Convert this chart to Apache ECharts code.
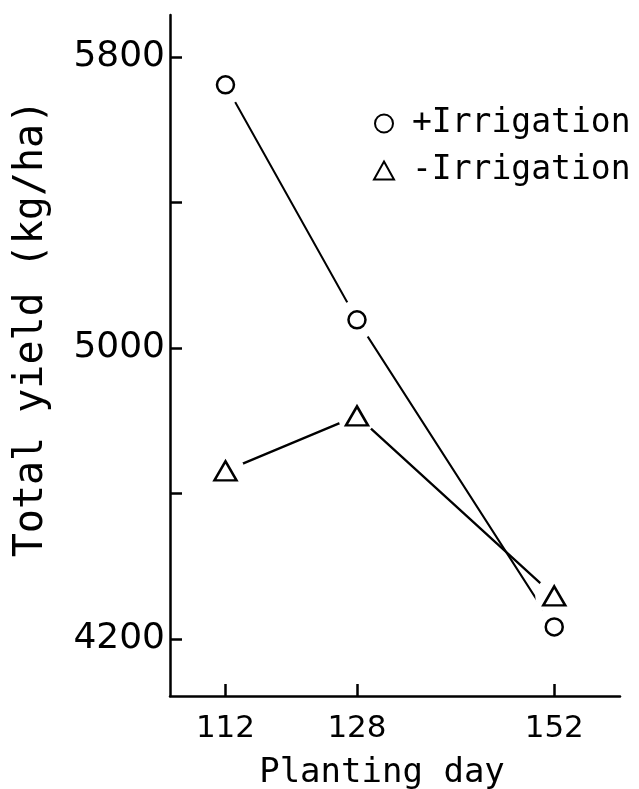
<html>
<head>
    <meta charset="utf-8">
    <script src="https://cdn.jsdelivr.net/npm/echarts@6/dist/echarts.min.js"></script>
</head>
<body style="margin:0;background:#fff">
<div id="main" style="width:639px;height:789px"></div>
<script>
    // Data
    var plantingDays = [112, 128, 152];
    var withIrrigation = [5723, 5077, 4233];
    var withoutIrrigation = [4662, 4813, 4318];
    var yTickValues = [4200, 4600, 5000, 5400, 5800];
    var yLabelValues = [4200, 5000, 5800];

    var font = 'DejaVu Sans';
    var wordFont = 'DejaVu Sans Mono';

    function pairs(ys) {
        return plantingDays.map(function (d, i) { return [d, ys[i]]; });
    }

    var chart = echarts.init(document.getElementById('main'));

    var markerStyle = {
        color: '#fff',
        borderColor: '#000',
        borderWidth: 2.5,
        opacity: 1
    };
    // white discs under the markers so the lines stop short of them
    var haloStyle = {
        color: '#fff',
        borderWidth: 0
    };

    var option = {
        backgroundColor: '#fff',
        animation: false,
        grid: {
            left: 170,
            right: 19,
            top: 15,
            bottom: 93,
            outerBoundsMode: 'none'
        },
        legend: {
            data: ['+Irrigation', '-Irrigation'],
            orient: 'vertical',
            left: 368,
            top: 102,
            itemWidth: 20,
            itemHeight: 18,
            itemGap: 14,
            selectedMode: false,
            textStyle: {
                fontFamily: wordFont,
                fontSize: 33,
                color: '#000',
                padding: [0, 0, 0, 13]
            }
        },
        xAxis: {
            type: 'value',
            min: 105.25,
            max: 160,
            name: 'Planting day',
            nameLocation: 'middle',
            nameGap: 60,
            nameTextStyle: {
                fontFamily: wordFont,
                fontSize: 34,
                color: '#000',
                padding: [0, 26, 0, 0]
            },
            axisLine: {lineStyle: {color: '#000', width: 2.5}},
            axisTick: {
                inside: true,
                length: 12,
                lineStyle: {color: '#000', width: 2.5},
                customValues: plantingDays
            },
            axisLabel: {
                fontFamily: font,
                fontSize: 31,
                color: '#000',
                margin: 17,
                customValues: plantingDays,
                formatter: function (v) { return String(v); }
            },
            splitLine: {show: false}
        },
        yAxis: {
            type: 'value',
            min: 4043,
            max: 5915,
            name: 'Total yield (kg/ha)',
            nameLocation: 'middle',
            nameGap: 118,
            nameTextStyle: {
                fontFamily: wordFont,
                fontSize: 40,
                color: '#000',
                padding: [0, 0, 0, 54]
            },
            axisLine: {lineStyle: {color: '#000', width: 2.5}},
            axisTick: {
                inside: true,
                length: 12,
                lineStyle: {color: '#000', width: 2.5},
                customValues: yTickValues
            },
            axisLabel: {
                fontFamily: font,
                fontSize: 36,
                color: '#000',
                margin: 5,
                customValues: yLabelValues,
                formatter: function (v) { return String(v); }
            },
            splitLine: {show: false}
        },
        series: [
            {
                name: 'line-',
                type: 'line',
                data: pairs(withoutIrrigation),
                symbol: 'circle',
                symbolSize: 38,
                itemStyle: haloStyle,
                lineStyle: {color: '#000', width: 2.3},
                z: 2
            },
            {
                name: 'line+',
                type: 'line',
                data: pairs(withIrrigation),
                symbol: 'circle',
                symbolSize: 40,
                itemStyle: haloStyle,
                lineStyle: {color: '#000', width: 2},
                z: 2
            },
            {
                name: '+Irrigation',
                type: 'scatter',
                data: pairs(withIrrigation),
                symbol: 'circle',
                symbolSize: 17,
                itemStyle: markerStyle,
                z: 3
            },
            {
                name: '-Irrigation',
                type: 'scatter',
                data: pairs(withoutIrrigation),
                symbol: 'triangle',
                symbolSize: [22, 19],
                itemStyle: markerStyle,
                z: 3
            }
        ]
    };

    chart.setOption(option);
</script>
</body>
</html>
